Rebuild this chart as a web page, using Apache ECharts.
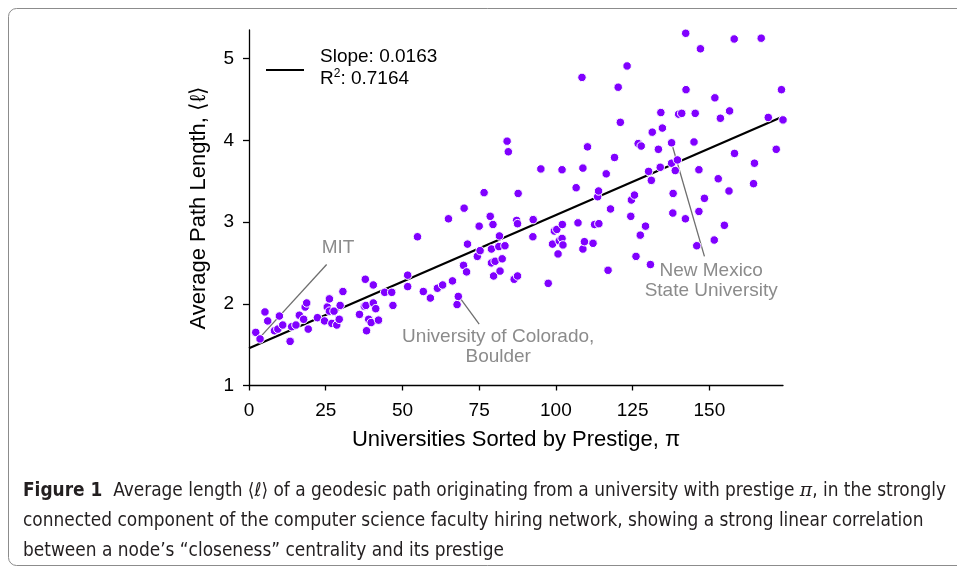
<!DOCTYPE html>
<html>
<head>
<meta charset="utf-8">
<script src="https://cdn.jsdelivr.net/npm/echarts@6/dist/echarts.min.js"></script>
<style>
  html, body { margin: 0; padding: 0; background: #ffffff; }
  #chart { width: 957px; height: 568px; }
</style>
</head>
<body>
<div id="chart"></div>
<script>
// Universities ranked by prestige (pi) and the mean geodesic path length <l> from each
const prestige = [
  2.2, 3.6, 5.2, 6.1, 8.3, 9.4, 9.9, 11.0, 13.4, 13.9, 15.3, 16.4, 17.8, 18.3, 18.8, 19.3,
  22.3, 24.6, 25.5, 26.2, 26.2, 27.0, 27.7, 28.6, 29.4, 29.7, 30.6, 36.0, 37.6, 37.9, 38.1,
  38.3, 39.0, 39.8, 40.5, 40.5, 41.3, 42.2, 44.2, 46.5, 46.9, 51.7, 51.7,
  54.9, 56.8, 59.1, 61.4, 63.1, 65.0, 66.3, 67.8, 68.2, 69.9, 70.1, 70.9, 71.2, 74.4, 75.0,
  75.3, 76.6, 78.6, 79.0, 79.0, 79.5, 79.7, 80.2, 81.4, 81.6, 81.8, 82.5, 83.4, 84.1, 84.5,
  86.4, 87.2, 87.5, 87.5, 87.7, 92.5, 92.6, 95.1, 97.5, 98.9, 99.5, 100.3, 100.7, 101.1,
  102.0, 102.0, 102.1, 102.3,
  106.6, 107.2, 108.5, 108.8, 108.8, 109.3, 110.3, 112.1, 112.6, 113.6, 113.9, 114.0, 116.4,
  117.0, 117.8, 119.1, 120.3, 121.0, 123.2, 124.4, 124.6, 125.6, 126.1, 126.8, 127.5, 127.8,
  129.2, 130.2, 130.8, 131.1, 131.4, 133.4, 134.0, 134.2, 134.7, 137.7, 137.7, 138.1, 138.2,
  138.9, 139.6, 140.0, 141.0, 142.2, 142.3, 142.4, 145.0, 145.4, 145.9, 146.6, 146.6, 147.1,
  148.4, 151.6, 151.8, 152.9, 153.6, 154.9, 156.4, 156.6, 158.1, 158.2, 164.4, 164.7, 166.9,
  169.2, 171.8, 173.5, 174.0
];
const pathLength = [
  1.65, 1.57, 1.90, 1.79, 1.67, 1.69, 1.85, 1.74, 1.54, 1.72, 1.74, 1.86, 1.81, 1.96, 2.01, 1.69,
  1.83, 1.79, 1.96, 2.06, 1.91, 1.76, 1.91, 1.74, 1.81, 1.98, 2.15, 1.87, 1.97, 2.30, 1.98,
  1.67, 1.81, 1.77, 2.23, 2.01, 1.94, 1.80, 2.14, 2.14, 1.98, 2.35, 2.21,
  2.82, 2.15, 2.07, 2.19, 2.23, 3.04, 2.28, 1.99, 2.09, 2.47, 3.17, 2.39, 2.73, 2.58, 2.95,
  2.65, 3.36, 3.07, 2.67, 2.50, 2.97, 2.34, 2.52, 2.70, 2.83, 2.40, 2.55, 2.71, 3.99, 3.86,
  2.30, 3.02, 2.98, 2.34, 3.35, 2.82, 3.03, 3.65, 2.25, 2.73, 2.89, 2.91, 2.61, 2.77,
  2.80, 3.64, 2.97, 2.72,
  3.42, 2.99, 4.77, 3.66, 2.67, 2.76, 3.92, 2.74, 2.97, 3.31, 3.38, 2.98, 3.59,
  2.41, 3.16, 3.79, 4.65, 4.22, 4.91, 3.07, 3.27, 3.33, 2.58, 3.96, 2.84, 3.93,
  2.95, 3.62, 2.48, 3.51, 4.10, 3.89, 3.67, 4.34, 4.15, 3.97, 3.72, 3.11, 3.35,
  3.63, 3.76, 4.32, 4.33, 3.04, 5.31, 4.62, 3.98, 4.33, 2.71, 3.64, 3.13, 5.12,
  3.29, 2.78, 4.52, 3.53, 4.27, 2.96, 3.38, 4.36, 5.24, 3.84, 3.47, 3.72, 5.25,
  4.28, 3.89, 4.62, 4.25
];

// Least-squares fit reported in the legend
const fitSlope = 0.0163;
const fitIntercept = 1.455;
const fitR2 = 0.7164;
const fitRange = [0, 174];

const xTicks = [0, 25, 50, 75, 100, 125, 150];
const yTicks = [1, 2, 3, 4, 5];

// Labelled universities: the point they refer to, the end of the leader line, and where the name sits
const calloutNames = ['MIT', 'University of Colorado,\nBoulder', 'New Mexico\nState University'];
const calloutPoints = [[4.1, 1.61], [68.8, 2.07], [137.9, 3.94]];
const calloutLineEnds = [[25.3, 2.48], [75.0, 1.75], [148.4, 2.58]];
const calloutTextAt = [[29.0, 2.68], [81.2, 1.47], [150.6, 2.28]];

const FONT = "'Liberation Sans', Arial, Helvetica, sans-serif";
const CAPTION_FONT = "'DejaVu Sans Condensed', 'Liberation Sans Narrow', sans-serif";
const DOT = '#8000ff';
const CALLOUT = '#6e6e6e';

const points = prestige.map((x, i) => [x, pathLength[i]]);
const fitLine = fitRange.map(x => [x, fitIntercept + fitSlope * x]);

const calloutLineSeries = calloutPoints.map((p, i) => ({
  type: 'line',
  data: [p, calloutLineEnds[i]],
  symbol: 'none',
  silent: true,
  z: 3,
  lineStyle: { color: CALLOUT, width: 1.3 },
  animation: false
}));

const chart = echarts.init(document.getElementById('chart'), null, { renderer: 'canvas' });

chart.setOption({
  animation: false,
  backgroundColor: '#ffffff',
  grid: { left: 249, right: 174, top: 30, bottom: 182.5, containLabel: false },
  xAxis: {
    type: 'value',
    min: 0,
    max: fitRange[1],
    interval: 25,
    name: 'Universities Sorted by Prestige, π',
    nameLocation: 'middle',
    nameGap: 43,
    nameTextStyle: { fontFamily: FONT, fontSize: 22, color: '#000' },
    axisLine: { lineStyle: { color: '#000', width: 1.3 } },
    axisTick: { show: true, length: 5, customValues: xTicks, lineStyle: { color: '#000', width: 1.3 } },
    axisLabel: { customValues: xTicks, fontFamily: FONT, fontSize: 19, color: '#000', margin: 16 },
    splitLine: { show: false }
  },
  yAxis: {
    type: 'value',
    min: 1,
    max: 5.35,
    interval: 1,
    name: 'Average Path Length, ⟨ℓ⟩',
    nameLocation: 'middle',
    nameGap: 39,
    nameRotate: 90,
    nameTextStyle: { fontFamily: FONT, fontSize: 22, color: '#000' },
    axisLine: { show: true, lineStyle: { color: '#000', width: 1.3 } },
    axisTick: { show: true, length: 6, customValues: yTicks, lineStyle: { color: '#000', width: 1.3 } },
    axisLabel: { customValues: yTicks, fontFamily: FONT, fontSize: 19, color: '#000', margin: 15 },
    splitLine: { show: false }
  },
  series: [
    {
      type: 'line',
      data: fitLine,
      symbol: 'none',
      z: 2,
      lineStyle: { color: '#000', width: 2.2 },
      silent: true
    },
    {
      type: 'scatter',
      data: points,
      symbol: 'circle',
      symbolSize: 8.5,
      z: 4,
      itemStyle: { color: DOT, borderColor: '#ffffff', borderWidth: 1, opacity: 1 }
    },
    ...calloutLineSeries,
    {
      type: 'scatter',
      data: calloutTextAt.map((p, i) => ({ value: p, name: calloutNames[i] })),
      symbolSize: 0,
      silent: true,
      z: 5,
      label: {
        show: true,
        position: 'inside',
        formatter: p => p.name,
        fontFamily: FONT,
        fontSize: 19,
        lineHeight: 20,
        color: CALLOUT,
        align: 'center',
        verticalAlign: 'middle'
      }
    }
  ],
  graphic: [
    // outer figure frame
    {
      type: 'rect',
      shape: { x: 8.5, y: 8.5, width: 980, height: 557, r: 8 },
      style: { fill: 'none', stroke: '#8c8c8c', lineWidth: 1 },
      silent: true
    },
    // legend for the fit line
    {
      type: 'line',
      shape: { x1: 266, y1: 70, x2: 304, y2: 70 },
      style: { stroke: '#000', lineWidth: 2.2 }
    },
    {
      type: 'text',
      left: 320,
      top: 46,
      style: {
        text: 'Slope: ' + fitSlope.toFixed(4) + '\nR{sup|2}: ' + fitR2.toFixed(4),
        fontFamily: FONT,
        fontSize: 19,
        lineHeight: 22,
        fill: '#000',
        rich: {
          sup: { fontFamily: FONT, fontSize: 12, verticalAlign: 'top', lineHeight: 12, padding: [0, 0, 8, 0] }
        }
      }
    },
    // caption
    {
      type: 'text',
      left: 23,
      top: 476,
      style: {
        text: '{b|Figure 1}  Average length ⟨ℓ⟩ of a geodesic path originating from a university with prestige {pi|π}, in the strongly\n' +
              'connected component of the computer science faculty hiring network, showing a strong linear correlation\n' +
              'between a node\u2019s \u201Ccloseness\u201D centrality and its prestige',
        fontFamily: CAPTION_FONT,
        fontSize: 18.9,
        lineHeight: 30,
        fill: '#231f20',
        rich: {
          b: { fontFamily: CAPTION_FONT, fontWeight: 'bold', fontSize: 18.9, fill: '#231f20' },
          pi: { fontFamily: "'DejaVu Serif', serif", fontStyle: 'italic', fontSize: 18.9, fill: '#231f20' }
        }
      }
    }
  ]
});
</script>
</body>
</html>
